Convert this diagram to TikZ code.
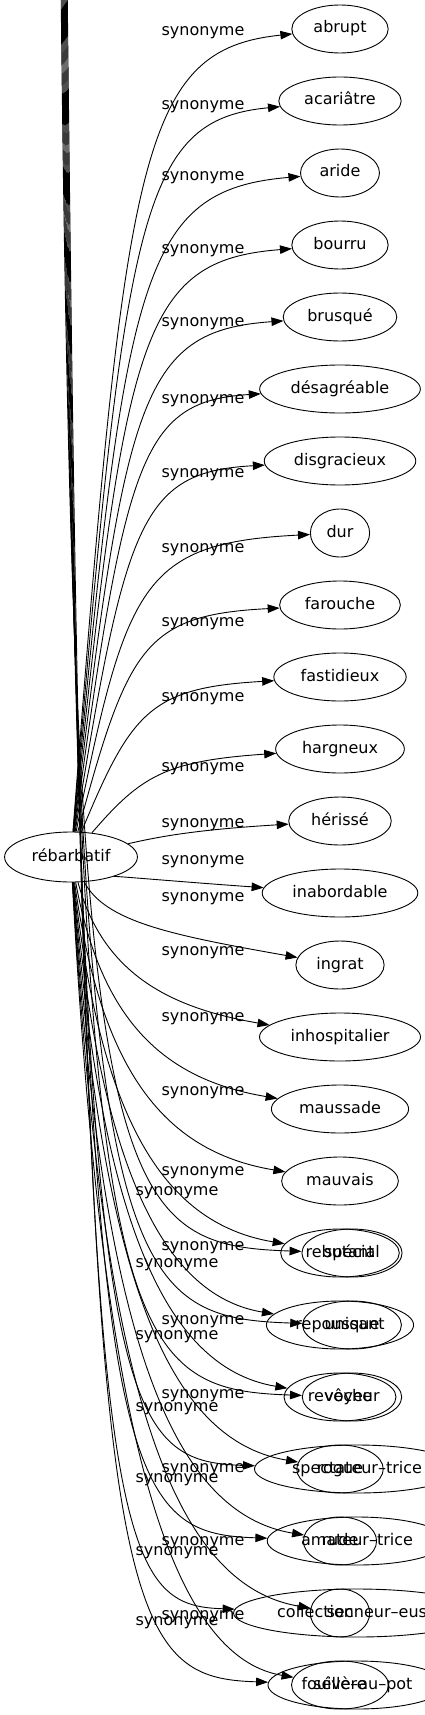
\documentclass[tikz,border=0pt]{standalone}
\usepackage{fontspec}
\setmainfont{DejaVu Sans}
\usepackage{tikz}
\usetikzlibrary{arrows.meta,shapes.geometric}

\begin{document}
\begin{tikzpicture}[x=1pt, y=-1pt, >={Triangle[length=12pt,width=8.5pt]},
   line width=0.9pt,
   mot/.style={draw, ellipse, inner xsep=7.5pt, inner ysep=2pt,
               text height=11.5pt, text depth=3.5pt,
               minimum height=48pt, font=\fontsize{16}{18}\selectfont},
   lbl/.style={inner sep=0pt, font=\fontsize{16}{18}\selectfont}]
  \path[use as bounding box] (0,0) rectangle (425,1715);
  \clip (0,0) rectangle (425,1715);
  % centre word, and the source of the second fan (above the page)
  \node[mot, minimum height=50pt] (reb) at (71,857) {rébarbatif};
  \coordinate (cur) at (63,-120);
  % synonyms
  \node[mot] (abrupt) at (340,29) {abrupt};
  \node[mot] (acariatre) at (340,101) {acariâtre};
  \node[mot] (aride) at (340,173) {aride};
  \node[mot] (bourru) at (340,245) {bourru};
  \node[mot] (brusque) at (340,317) {brusqué};
  \node[mot] (desagreable) at (340,389) {désagréable};
  \node[mot] (disgracieux) at (340,461) {disgracieux};
  \node[mot] (dur) at (340,533) {dur};
  \node[mot] (farouche) at (340,605) {farouche};
  \node[mot] (fastidieux) at (340,677) {fastidieux};
  \node[mot] (hargneux) at (340,749) {hargneux};
  \node[mot] (herisse) at (340,821) {hérissé};
  \node[mot] (inabordable) at (340,893) {inabordable};
  \node[mot] (ingrat) at (340,965) {ingrat};
  \node[mot] (inhospitalier) at (340,1037) {inhospitalier};
  \node[mot] (maussade) at (340,1109) {maussade};
  \node[mot] (mauvais) at (340,1181) {mauvais};
  \node[mot] (rebutant) at (340,1253) {rebutant};
  \node[mot] (repoussant) at (340,1325) {repoussant};
  \node[mot] (reveche) at (340,1397) {revêche};
  \node[mot] (rogue) at (340,1469) {rogue};
  \node[mot] (rude) at (340,1541) {rude};
  \node[mot] (sec) at (340,1613) {sec};
  \node[mot] (severe) at (340,1685) {sévère};
  % second fan, laid over the first
  \node[mot] (special) at (352,1253) {spécial};
  \node[mot] (unique) at (352,1325) {unique};
  \node[mot] (voyeur) at (352,1397) {voyeur};
  \node[mot] (spectateur) at (357,1469) {spectateur–trice};
  \node[mot] (amateur) at (357,1541) {amateur–trice};
  \node[mot] (collectionneur) at (357,1613) {collectionneur–euse};
  \node[mot] (fouille) at (357,1685) {fouille–au–pot};

  % edges going up
  \foreach \n/\yt/\yl in {abrupt/29/33, acariatre/101/107, aride/173/178,
      bourru/245/251, brusque/317/324, desagreable/389/401,
      disgracieux/461/475, dur/533/550, farouche/605/624,
      fastidieux/677/699, hargneux/749/769, herisse/821/825} {
    \pgfmathsetmacro\dy{857-\yt}
    \pgfmathsetmacro\w{exp(-\dy/80)}
    \pgfmathsetmacro\ax{125+60*\w}
    \pgfmathsetmacro\ay{\yt+\dy*(0.15+0.4*\w)}
    \pgfmathsetmacro\bx{140+95*\w}
    \pgfmathsetmacro\by{\yt+\dy*(0.025+0.33*\w)}
    \draw[->] (reb) .. controls (\ax,\ay) and (\bx,\by) .. (\n);
    \node[lbl] (s-\n) at (203,\yl) {synonyme};
  }
  % edges going down
  \foreach \n/\yt/\yl in {inabordable/893/862, ingrat/965/899,
      inhospitalier/1037/953, maussade/1109/1019, mauvais/1181/1093,
      rebutant/1253/1173, repoussant/1325/1248, reveche/1397/1322,
      rogue/1469/1396, rude/1541/1470, sec/1613/1543, severe/1685/1617} {
    \pgfmathsetmacro\dy{\yt-857}
    \pgfmathsetmacro\w{exp(-\dy/80)}
    \pgfmathsetmacro\ax{100+20*\w}
    \pgfmathsetmacro\ay{\yt-\dy*(0.35+0.2*\w)}
    \pgfmathsetmacro\bx{160+40*\w}
    \pgfmathsetmacro\by{\yt-min(30,0.3*\dy)}
    \draw[->] (reb) .. controls (\ax,\ay) and (\bx,\by) .. (\n);
    \node[lbl] (s-\n) at (203,\yl) {synonyme};
  }
  % second fan
  \foreach \n/\yt/\yl [count=\i] in {special/1253/1193, unique/1325/1265,
      voyeur/1397/1337, spectateur/1469/1409, amateur/1541/1480,
      collectionneur/1613/1553, fouille/1685/1623} {
    \pgfmathsetmacro\sx{\i-4}
    \pgfmathsetmacro\ax{70+2*\i}
    \pgfmathsetmacro\ay{0.95*\yt}
    \pgfmathsetmacro\by{\yt-8}
    \draw[->] ([xshift=\sx pt]cur) .. controls (\ax,\ay) and (105,\by) .. (\n);
    \node[lbl] (t-\n) at (177,\yl) {synonyme};
  }
\end{tikzpicture}
\end{document}
